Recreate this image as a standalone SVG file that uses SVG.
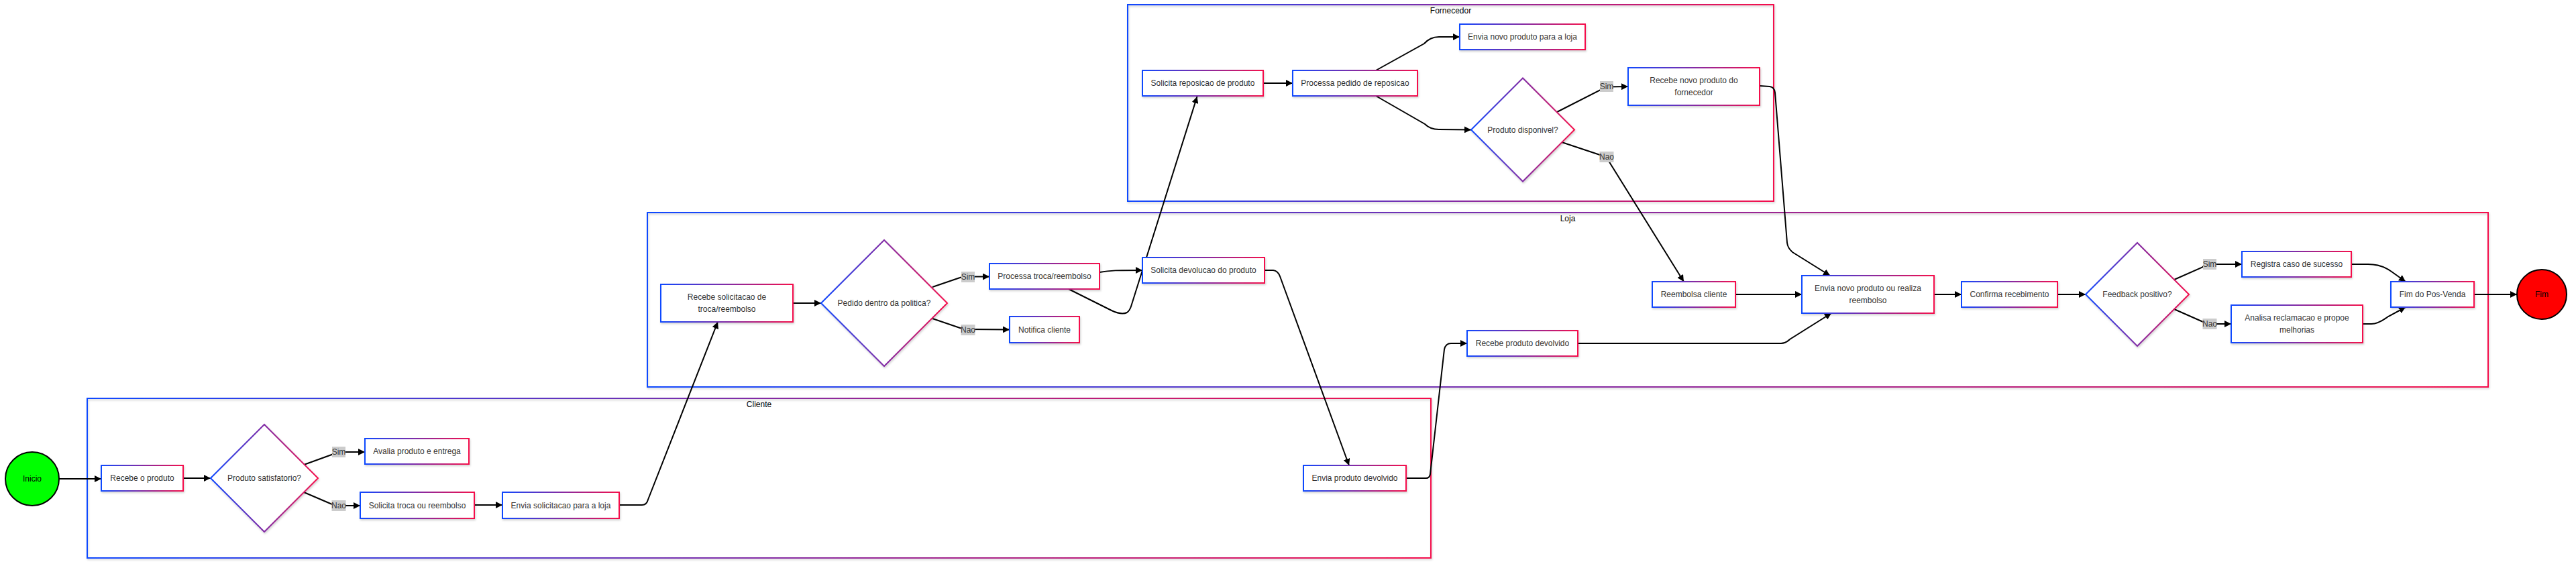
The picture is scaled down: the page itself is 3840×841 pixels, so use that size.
<svg xmlns="http://www.w3.org/2000/svg" width="3840" height="841" viewBox="0 0 3840 841">
<defs>
<linearGradient id="grad" x1="0" y1="0" x2="1" y2="0">
<stop offset="0" stop-color="#1048ff"/>
<stop offset="1" stop-color="#f5104c"/>
</linearGradient>
<filter id="sh" x="-5%" y="-5%" width="110%" height="120%">
<feDropShadow dx="1" dy="2" stdDeviation="1.5" flood-color="#000" flood-opacity="0.18"/>
</filter>
<marker id="arr" viewBox="0 0 10 10" refX="10" refY="5" markerWidth="10" markerHeight="10" markerUnits="userSpaceOnUse" orient="auto">
<path d="M0,0 L10,5 L0,10 z" fill="#000"/>
</marker>
</defs>
<style>
.lane{fill:none;stroke:url(#grad);stroke-width:2;filter:url(#sh)}
.box{fill:#fff;stroke:url(#grad);stroke-width:2;filter:url(#sh)}
.t{font-family:"Liberation Sans",Arial,sans-serif;font-size:12px;fill:#333;text-anchor:middle;dominant-baseline:central}
.lt{font-family:"Liberation Sans",Arial,sans-serif;font-size:12px;fill:#000;text-anchor:middle;dominant-baseline:central}
.e{fill:none;stroke:#000;stroke-width:2;marker-end:url(#arr)}
.lb{fill:#cccccc}
</style>
<rect width="3840" height="841" fill="#fff"/>

<g id="lanes">
<g id="lane-cliente"><rect class="lane" x="130" y="594" width="2003" height="238"/><text class="lt" x="1131.5" y="603">Cliente</text></g>
<g id="lane-loja"><rect class="lane" x="965" y="317" width="2744" height="260"/><text class="lt" x="2337" y="326">Loja</text></g>
<g id="lane-fornecedor"><rect class="lane" x="1681" y="7" width="963" height="293"/><text class="lt" x="2162.5" y="16">Fornecedor</text></g>
</g>

<g id="connectors">
<path class="e" d="M88,714 L151,714"/>
<path class="e" d="M273,713 L314,713"/>
<path class="e" d="M453,693 L497,677 Q501,674 506,674 L544,674"/>
<path class="e" d="M453,734 L495,752 Q499,754 505,754 L537,754"/>
<path class="e" d="M707,753 L749,753"/>
<path class="e" d="M923,753 L957,753 Q964,753 966,745 L1070,480"/>
<path class="e" d="M1182,452 L1224,452"/>
<path class="e" d="M1390,428 L1431,414 Q1435,412.5 1441,412.5 L1475,412.5"/>
<path class="e" d="M1390,475 L1431,489 Q1436,491 1442,491 L1505,491.5"/>
<path class="e" d="M1639,406 C1655,403 1665,403 1703,403"/>
<path class="e" d="M1593,431 L1657,463 Q1672,470 1680,466 Q1684,463 1686,457 L1784.5,144"/>
<path class="e" d="M1885,403 L1898,403 Q1905,404 1908,412 L2011,694"/>
<path class="e" d="M2096,713 L2126,713 Q2131,713 2132,707 L2153,521 Q2155,512 2163,512 L2187,512"/>
<path class="e" d="M2352,512 L2655,512 Q2662,512 2668,506 L2730,467"/>
<path class="e" d="M1883,124 L1927,124"/>
<path class="e" d="M2051,105 L2123,65 Q2132,55 2145,55 L2176,55"/>
<path class="e" d="M2051,143 L2124,185 Q2132,193 2145,193 L2193,193.5"/>
<path class="e" d="M2321,167 L2386,134 Q2390,129.5 2396,129.5 L2427,129"/>
<path class="e" d="M2328,212 L2388,232 Q2395,235 2398,240 L2510,420"/>
<path class="e" d="M2623,128 L2638,129 Q2645,130 2646,138 L2664,362 Q2665,370 2672,376 L2728,411"/>
<path class="e" d="M2587,439 L2686,439"/>
<path class="e" d="M2883,439 L2924,439"/>
<path class="e" d="M3067,439 L3109,439"/>
<path class="e" d="M3241,417 L3282,399 Q3288,394 3296,394 L3342,394"/>
<path class="e" d="M3241,461 L3284,480 Q3289,483 3296,483 L3326,483"/>
<path class="e" d="M3505,394 L3530,394 Q3550,394 3565,405 L3586,420"/>
<path class="e" d="M3522,483 L3535,483 Q3545,483 3560,472 L3586,458"/>
<path class="e" d="M3688,439 L3752,439"/>
</g>

<g id="edge-labels">
<g><rect class="lb" x="495" y="666" width="20" height="16"/><text class="t" x="505" y="674">Sim</text></g>
<g><rect class="lb" x="494.5" y="746" width="21" height="16"/><text class="t" x="505" y="754">Nao</text></g>
<g><rect class="lb" x="1433" y="405" width="20" height="16"/><text class="t" x="1443" y="413">Sim</text></g>
<g><rect class="lb" x="1432.5" y="484" width="21" height="16"/><text class="t" x="1443" y="492">Nao</text></g>
<g><rect class="lb" x="2385" y="121" width="20" height="16"/><text class="t" x="2395" y="129">Sim</text></g>
<g><rect class="lb" x="2384.5" y="226" width="21" height="16"/><text class="t" x="2395" y="234">Nao</text></g>
<g><rect class="lb" x="3284" y="386" width="20" height="16"/><text class="t" x="3294" y="394">Sim</text></g>
<g><rect class="lb" x="3283.5" y="475" width="21" height="16"/><text class="t" x="3294" y="483">Nao</text></g>
</g>

<g id="inicio"><circle cx="48" cy="714" r="40" fill="#00ff00" stroke="#000" stroke-width="2"/><text class="lt" x="48" y="714">Inicio</text></g>
<g id="recebe-produto"><rect class="box" x="151" y="694" width="122" height="38"/><text class="t" x="212" y="713">Recebe o produto</text></g>
<g id="produto-satisfatorio"><polygon class="box" points="314,713 394,633 474,713 394,793"/><text class="t" x="394" y="713">Produto satisfatorio?</text></g>
<g id="avalia-produto"><rect class="box" x="544" y="654" width="155" height="38"/><text class="t" x="621.5" y="673">Avalia produto e entrega</text></g>
<g id="solicita-troca"><rect class="box" x="537" y="734" width="170" height="39"/><text class="t" x="622" y="753.5">Solicita troca ou reembolso</text></g>
<g id="envia-solicitacao"><rect class="box" x="749" y="734" width="174" height="39"/><text class="t" x="836" y="753.5">Envia solicitacao para a loja</text></g>
<g id="envia-devolvido"><rect class="box" x="1943" y="694" width="153" height="38"/><text class="t" x="2019.5" y="713">Envia produto devolvido</text></g>

<g id="recebe-solicitacao"><rect class="box" x="985" y="424" width="197" height="56"/><text class="t" x="1083.5" y="443">Recebe solicitacao de</text><text class="t" x="1083.5" y="461">troca/reembolso</text></g>
<g id="pedido-politica"><polygon class="box" points="1224,452 1318,358 1412,452 1318,546"/><text class="t" x="1318" y="452">Pedido dentro da politica?</text></g>
<g id="processa-troca"><rect class="box" x="1475" y="393" width="164" height="38"/><text class="t" x="1557" y="412">Processa troca/reembolso</text></g>
<g id="notifica-cliente"><rect class="box" x="1505" y="472" width="104" height="39"/><text class="t" x="1557" y="491.5">Notifica cliente</text></g>
<g id="solicita-devolucao"><rect class="box" x="1703" y="384" width="182" height="38"/><text class="t" x="1794" y="403">Solicita devolucao do produto</text></g>
<g id="recebe-devolvido"><rect class="box" x="2187" y="493" width="165" height="38"/><text class="t" x="2269.5" y="512">Recebe produto devolvido</text></g>
<g id="reembolsa-cliente"><rect class="box" x="2463" y="420" width="124" height="38"/><text class="t" x="2525" y="439">Reembolsa cliente</text></g>
<g id="envia-novo-ou-reembolso"><rect class="box" x="2686" y="411" width="197" height="56"/><text class="t" x="2784.5" y="430">Envia novo produto ou realiza</text><text class="t" x="2784.5" y="448">reembolso</text></g>
<g id="confirma-recebimento"><rect class="box" x="2924" y="420" width="143" height="38"/><text class="t" x="2995.5" y="439">Confirma recebimento</text></g>
<g id="feedback-positivo"><polygon class="box" points="3109,439 3186,362 3263,439 3186,516"/><text class="t" x="3186" y="439">Feedback positivo?</text></g>
<g id="registra-sucesso"><rect class="box" x="3342" y="375" width="163" height="38"/><text class="t" x="3423.5" y="394">Registra caso de sucesso</text></g>
<g id="analisa-reclamacao"><rect class="box" x="3326" y="455" width="196" height="56"/><text class="t" x="3424" y="474">Analisa reclamacao e propoe</text><text class="t" x="3424" y="492">melhorias</text></g>
<g id="fim-pos-venda"><rect class="box" x="3564" y="420" width="124" height="38"/><text class="t" x="3626" y="439">Fim do Pos-Venda</text></g>
<g id="fim"><circle cx="3789" cy="439" r="37" fill="#ff0000" stroke="#000" stroke-width="2"/><text class="lt" x="3789" y="439">Fim</text></g>

<g id="solicita-reposicao"><rect class="box" x="1703" y="105" width="180" height="38"/><text class="t" x="1793" y="124">Solicita reposicao de produto</text></g>
<g id="processa-pedido"><rect class="box" x="1927" y="105" width="186" height="38"/><text class="t" x="2020" y="124">Processa pedido de reposicao</text></g>
<g id="envia-novo-loja"><rect class="box" x="2176" y="36" width="187" height="38"/><text class="t" x="2269.5" y="55">Envia novo produto para a loja</text></g>
<g id="produto-disponivel"><polygon class="box" points="2193,193.5 2270,116.5 2347,193.5 2270,270.5"/><text class="t" x="2270" y="193.5">Produto disponivel?</text></g>
<g id="recebe-novo-fornecedor"><rect class="box" x="2427" y="101" width="196" height="56"/><text class="t" x="2525" y="120">Recebe novo produto do</text><text class="t" x="2525" y="138">fornecedor</text></g>
</svg>
